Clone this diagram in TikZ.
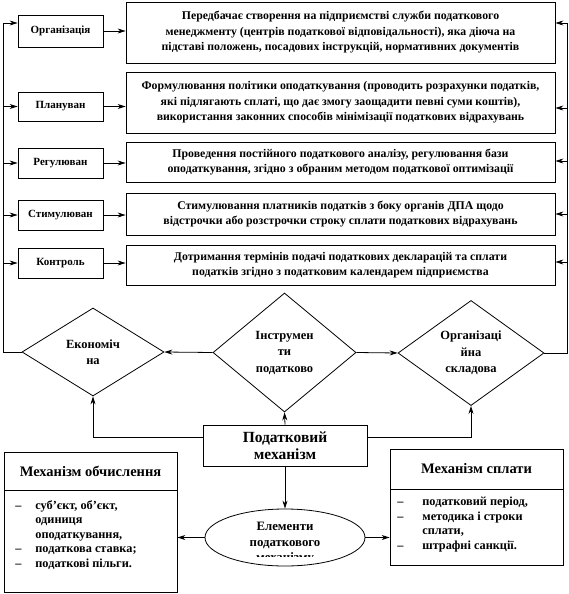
\documentclass[tikz,border=0pt]{standalone}
\usepackage{fontspec}
\setmainfont{Liberation Serif}
\usetikzlibrary{arrows.meta,shapes.geometric}

\tikzset{
  stage/.style={draw, minimum width=85pt, inner sep=1pt, font=\fontsize{11}{12}\selectfont\bfseries},
  descbox/.style={draw, minimum width=429pt, inner sep=2pt, align=center, font=\fontsize{11.8}{15.5}\selectfont\bfseries},
  part/.style={draw, diamond, inner sep=0pt, align=center, font=\fontsize{12.5}{16.5}\selectfont\bfseries},
  headbox/.style={draw, minimum width=173pt, font=\fontsize{14.5}{16}\selectfont\bfseries},
  itembox/.style={align=left, inner sep=0pt, font=\fontsize{12.3}{14.5}\selectfont\bfseries},
  link/.style={-{Stealth[length=8pt,width=5pt]}},
}
\newcommand{\dashitem}[1]{\makebox[20pt][l]{--}#1}
\newcommand{\noitem}[1]{\hspace*{20pt}#1}

\begin{document}
\begin{tikzpicture}[x=1pt,y=-1pt,line width=0.8pt]
\useasboundingbox (0,0) rectangle (569,594);
% functions and what they mean
\node[stage, minimum height=32pt] (org) at (60.5,31) {Організація};
\node[stage, minimum height=29pt] (plan) at (60.5,106.5) {Плануван};
\node[stage, minimum height=30pt] (reg) at (60.5,163) {Регулюван};
\node[stage, minimum height=30pt] (stim) at (60.5,215) {Стимулюван};
\node[stage, minimum height=30pt] (ctrl) at (60.5,263) {Контроль};
\node[descbox, minimum height=61pt] (orgtext) at (340.5,32.5) {Передбачає створення на підприємстві служби податкового\\менеджменту (центрів податкової відповідальності), яка діюча на\\підставі положень, посадових інструкцій, нормативних документів};
\node[descbox, minimum height=61pt] (plantext) at (340.5,102.5) {Формулювання політики оподаткування (проводить розрахунки податків,\\які підлягають сплаті, що дає змогу заощадити певні суми коштів),\\використання законних способів мінімізації податкових відрахувань};
\node[descbox, minimum height=40pt] (regtext) at (340.5,162) {Проведення постійного податкового аналізу, регулювання бази\\оподаткування, згідно з обраним методом податкової оптимізації};
\node[descbox, minimum height=42pt] (stimtext) at (340.5,214) {Стимулювання платників податків з боку органів ДПА щодо\\відстрочки або розстрочки строку сплати податкових відрахувань};
\node[descbox, minimum height=40pt] (ctrltext) at (340.5,265) {Дотримання термінів подачі податкових декларацій та сплати\\податків згідно з податковим календарем підприємства};
\foreach \a/\b in {org/orgtext, plan/plantext, reg/regtext, stim/stimtext, ctrl/ctrltext}
  \draw[link] (\a.east) -- (\a.east -| \b.west);

% the three sides
\node[part, minimum width=142pt, minimum height=88pt] (econ) at (93,352) {Економіч\\на};
\node[part, minimum width=143pt, minimum height=119pt] (instr) at (284.5,352.5) {Інструмен\\ти\\податково};
\node[part, minimum width=146pt, minimum height=104pt] (orgpart) at (471,353) {Організаці\\йна\\складова};
\draw[link] (instr.west) -- (econ.east);
\draw[link] (instr.east) -- (orgpart.west);

% buses on both sides
\coordinate (lbus) at (3,23);
\coordinate (rbus) at (567,23);
\draw (econ.west) -| (lbus);
\draw[link] (lbus) -- (lbus -| org.west);
\foreach \a in {plan,reg,stim,ctrl}
  \draw[link] (lbus |- \a.west) -- (\a.west);
\draw (orgpart.east) -| (rbus);
\foreach \b/\s in {orgtext/9.5, plantext/-5.5, regtext/1, stimtext/0, ctrltext/3} {
  \coordinate (\b-in) at ([yshift=\s pt]\b.east);
  \draw[link] (rbus |- \b-in) -- (\b-in);
}

% tax mechanism
\node[draw, minimum width=164pt, minimum height=41pt, align=center, font=\fontsize{15.5}{17}\selectfont\bfseries] (mech) at (285,445.5) {Податковий\\механізм};
\draw[link] (mech.north) -- (instr.south);
\draw[link] ([yshift=8.5pt]mech.west) -| (econ.south);
\draw[link] ([yshift=8.5pt]mech.east) -| (orgpart.south);

\node[draw, ellipse, minimum width=160pt, minimum height=57pt] (elem) at (285,537.5) {};
\node[align=center, font=\fontsize{12.8}{16}\selectfont\bfseries] (elemtext) at (285,535) {Елементи\\податкового};
\begin{scope}
\clip (205,509) rectangle (365,556);
\node[font=\fontsize{12.8}{13}\selectfont\bfseries] (elemcut) at (285,558.5) {механізму};
\end{scope}
\draw[link] (mech.south) -- (elem.north);

% calculation and payment
\node[headbox, minimum height=38pt] (calc) at (90.5,471) {Механізм обчислення};
\node[draw, minimum width=173pt, minimum height=102pt] (calclist) at (90.5,541) {};
\node[itembox, anchor=north west] (calcitems) at (15,500) {\dashitem{суб’єкт, об’єкт,}\\\noitem{одиниця}\\\noitem{оподаткування,}\\\dashitem{податкова ставка;}\\\dashitem{податкові пільги.}};
\node[headbox, minimum height=40pt] (pay) at (476.5,469) {Механізм сплати};
\node[draw, minimum width=173pt, minimum height=76pt] (paylist) at (476.5,527) {};
\node[itembox, anchor=north west] (payitems) at (397,497) {\makebox[25pt][l]{--}податковий період,\\\makebox[25pt][l]{--}методика і строки\\\hspace*{25pt}сплати,\\\makebox[25pt][l]{--}штрафні санкції.};
\draw[link] (elem.west) -- (elem.west -| calclist.east);
\draw[link] (elem.east) -- (elem.east -| paylist.west);
\end{tikzpicture}
\end{document}
